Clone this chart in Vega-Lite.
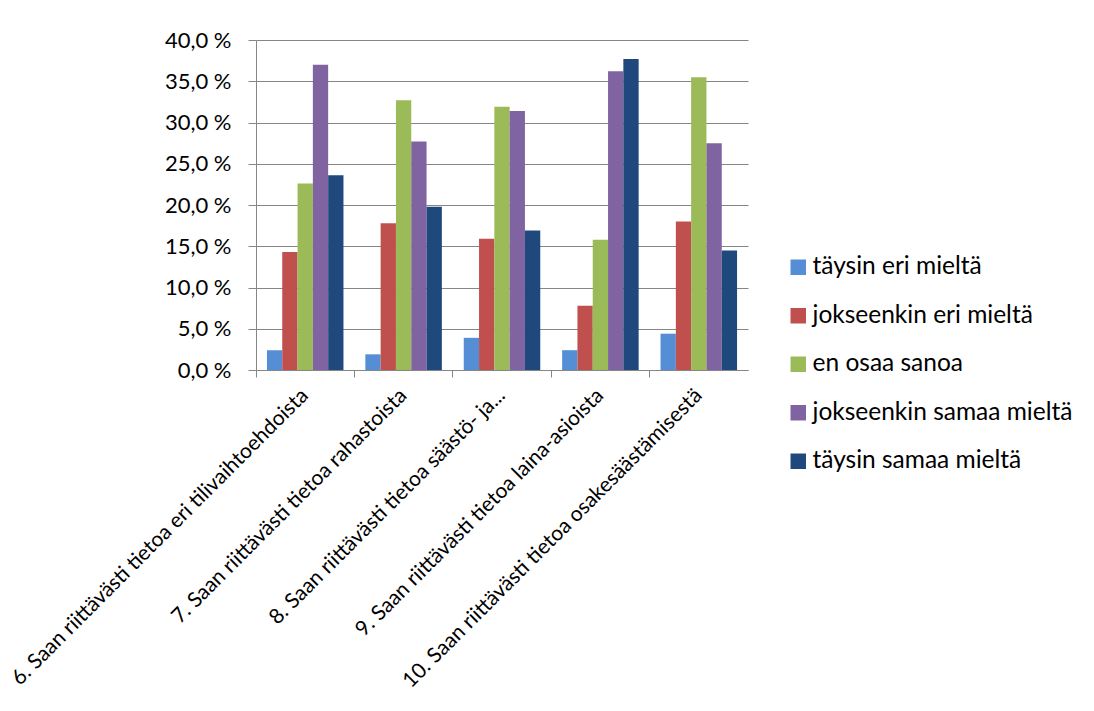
{
  "$schema": "https://vega.github.io/schema/vega-lite/v6.json",
  "width": 492,
  "height": 330,
  "autosize": "none",
  "padding": {"left": 256, "top": 40, "right": 346, "bottom": 341},
  "background": "white",
  "data": {
    "values": [
      {"kysymys": "6. Saan riittävästi tietoa eri tilivaihtoehdoista", "vastaus": "täysin eri mieltä", "osuus": 2.4},
      {"kysymys": "6. Saan riittävästi tietoa eri tilivaihtoehdoista", "vastaus": "jokseenkin eri mieltä", "osuus": 14.3},
      {"kysymys": "6. Saan riittävästi tietoa eri tilivaihtoehdoista", "vastaus": "en osaa sanoa", "osuus": 22.6},
      {"kysymys": "6. Saan riittävästi tietoa eri tilivaihtoehdoista", "vastaus": "jokseenkin samaa mieltä", "osuus": 37.0},
      {"kysymys": "6. Saan riittävästi tietoa eri tilivaihtoehdoista", "vastaus": "täysin samaa mieltä", "osuus": 23.6},
      {"kysymys": "7. Saan riittävästi tietoa rahastoista", "vastaus": "täysin eri mieltä", "osuus": 1.9},
      {"kysymys": "7. Saan riittävästi tietoa rahastoista", "vastaus": "jokseenkin eri mieltä", "osuus": 17.8},
      {"kysymys": "7. Saan riittävästi tietoa rahastoista", "vastaus": "en osaa sanoa", "osuus": 32.7},
      {"kysymys": "7. Saan riittävästi tietoa rahastoista", "vastaus": "jokseenkin samaa mieltä", "osuus": 27.7},
      {"kysymys": "7. Saan riittävästi tietoa rahastoista", "vastaus": "täysin samaa mieltä", "osuus": 19.8},
      {"kysymys": "8. Saan riittävästi tietoa säästö- ja...", "vastaus": "täysin eri mieltä", "osuus": 3.9},
      {"kysymys": "8. Saan riittävästi tietoa säästö- ja...", "vastaus": "jokseenkin eri mieltä", "osuus": 15.9},
      {"kysymys": "8. Saan riittävästi tietoa säästö- ja...", "vastaus": "en osaa sanoa", "osuus": 31.9},
      {"kysymys": "8. Saan riittävästi tietoa säästö- ja...", "vastaus": "jokseenkin samaa mieltä", "osuus": 31.4},
      {"kysymys": "8. Saan riittävästi tietoa säästö- ja...", "vastaus": "täysin samaa mieltä", "osuus": 16.9},
      {"kysymys": "9. Saan riittävästi tietoa laina-asioista", "vastaus": "täysin eri mieltä", "osuus": 2.4},
      {"kysymys": "9. Saan riittävästi tietoa laina-asioista", "vastaus": "jokseenkin eri mieltä", "osuus": 7.8},
      {"kysymys": "9. Saan riittävästi tietoa laina-asioista", "vastaus": "en osaa sanoa", "osuus": 15.8},
      {"kysymys": "9. Saan riittävästi tietoa laina-asioista", "vastaus": "jokseenkin samaa mieltä", "osuus": 36.2},
      {"kysymys": "9. Saan riittävästi tietoa laina-asioista", "vastaus": "täysin samaa mieltä", "osuus": 37.7},
      {"kysymys": "10. Saan riittävästi tietoa osakesäästämisestä", "vastaus": "täysin eri mieltä", "osuus": 4.4},
      {"kysymys": "10. Saan riittävästi tietoa osakesäästämisestä", "vastaus": "jokseenkin eri mieltä", "osuus": 18.0},
      {"kysymys": "10. Saan riittävästi tietoa osakesäästämisestä", "vastaus": "en osaa sanoa", "osuus": 35.5},
      {"kysymys": "10. Saan riittävästi tietoa osakesäästämisestä", "vastaus": "jokseenkin samaa mieltä", "osuus": 27.5},
      {"kysymys": "10. Saan riittävästi tietoa osakesäästämisestä", "vastaus": "täysin samaa mieltä", "osuus": 14.5}
    ]
  },
  "mark": {"type": "bar"},
  "encoding": {
    "x": {
      "field": "kysymys",
      "type": "nominal",
      "sort": null,
      "title": null,
      "scale": {"paddingInner": 0, "paddingOuter": 0},
      "axis": {
        "bandPosition": 0,
        "labelAngle": -45,
        "labelAlign": "right",
        "labelBaseline": "middle",
        "labelPadding": 15,
        "labelLimit": 0,
        "labelFont": "Lato",
        "labelFontSize": 21,
        "labelColor": "#000000",
        "tickSize": 7,
        "tickColor": "#868686",
        "domainColor": "#868686",
        "grid": false
      }
    },
    "xOffset": {
      "field": "vastaus",
      "type": "nominal",
      "sort": null,
      "scale": {"paddingInner": 0, "paddingOuter": 0.715}
    },
    "y": {
      "field": "osuus",
      "type": "quantitative",
      "title": null,
      "scale": {"domain": [0, 40], "nice": false},
      "axis": {
        "values": [0, 5, 10, 15, 20, 25, 30, 35, 40],
        "labelExpr": "replace(format(datum.value, '.1f'), '.', ',') + ' %'",
        "labelFont": "Lato",
        "labelFontSize": 22,
        "labelColor": "#000000",
        "labelPadding": 17,
        "tickSize": 8,
        "tickColor": "#868686",
        "domainColor": "#868686",
        "gridColor": "#868686",
        "gridOpacity": 1,
        "gridWidth": 1
      }
    },
    "color": {
      "field": "vastaus",
      "type": "nominal",
      "sort": null,
      "scale": {
        "domain": ["täysin eri mieltä", "jokseenkin eri mieltä", "en osaa sanoa", "jokseenkin samaa mieltä", "täysin samaa mieltä"],
        "range": ["#558ED5", "#C0504D", "#9BBB59", "#8064A2", "#1F497D"]
      },
      "legend": {
        "title": null,
        "orient": "none",
        "legendX": 530,
        "legendY": 215,
        "symbolType": "square",
        "symbolSize": 240,
        "symbolStrokeWidth": 0,
        "labelFont": "Lato",
        "labelFontSize": 24.5,
        "labelLimit": 0,
        "labelColor": "#000000",
        "labelOffset": 2,
        "rowPadding": 23.5
      }
    }
  },
  "config": {
    "view": {"stroke": null},
    "axis": {"domainWidth": 1, "tickWidth": 1}
  }
}
